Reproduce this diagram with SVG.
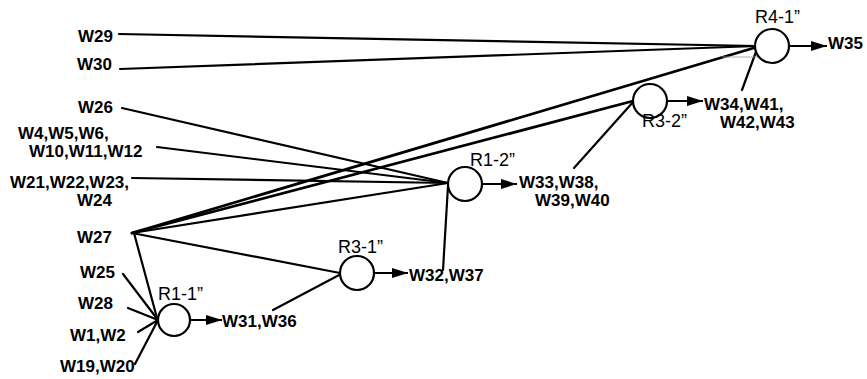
<svg xmlns="http://www.w3.org/2000/svg" width="867" height="379" viewBox="0 0 867 379">
<style>
text{font-family:"Liberation Sans",Arial,sans-serif;font-size:17px;fill:#000}
.w{font-weight:bold}
.r{font-weight:normal;font-size:18px}
.c{fill:#fff;stroke:#000;stroke-width:2.2}
.l{stroke:#000;stroke-width:2.2;fill:none;stroke-linecap:round}
.t{stroke:#000;stroke-width:2.8;fill:none;stroke-linecap:round}
.a{stroke:#000;stroke-width:2;fill:none;marker-end:url(#ah)}
</style>
<defs>
<marker id="ah" markerUnits="userSpaceOnUse" markerWidth="16" markerHeight="10" refX="16" refY="5" orient="auto">
<path d="M0,0 L16,5 L0,10 Z" fill="#000"/>
</marker>
</defs>
<g id="connectors">
<line class="l" x1="119" y1="34" x2="757" y2="46"/>
<line class="l" x1="120" y1="69" x2="757" y2="46"/>
<line class="t" x1="132" y1="233" x2="757" y2="47"/>
<line class="l" x1="742" y1="90" x2="757" y2="49"/>
<line x1="722" y1="57" x2="760" y2="57" stroke="#999" stroke-width="0.8"/>
<line class="t" x1="132" y1="233" x2="633" y2="101"/>
<line class="l" x1="574" y1="168" x2="634" y2="101"/>
<line class="l" x1="122" y1="108" x2="448" y2="183"/>
<line class="l" x1="157" y1="147" x2="448" y2="183"/>
<line class="l" x1="132" y1="178" x2="448" y2="183"/>
<line class="l" x1="132" y1="233" x2="448" y2="183"/>
<line class="l" x1="443" y1="270" x2="448" y2="186"/>
<line class="l" x1="132" y1="233" x2="340" y2="273"/>
<line class="l" x1="273" y1="310" x2="341" y2="274"/>
<line class="l" x1="134" y1="233" x2="157" y2="318"/>
<line class="l" x1="123" y1="274" x2="158" y2="320"/>
<line class="l" x1="128" y1="308" x2="158" y2="320"/>
<line class="l" x1="138" y1="332" x2="158" y2="320"/>
<line class="l" x1="135" y1="364" x2="158" y2="320"/>
<line class="a" x1="190" y1="320" x2="222" y2="320"/>
<line class="a" x1="374" y1="273" x2="408" y2="273"/>
<line class="a" x1="482" y1="184" x2="517" y2="184"/>
<line class="a" x1="667" y1="101" x2="703" y2="101"/>
<line class="a" x1="789" y1="46" x2="827" y2="46"/>
</g>
<g id="R1-1"><circle class="c" cx="174" cy="320" r="16"/><text class="r" x="158" y="300">R1-1”</text></g>
<g id="R3-1"><circle class="c" cx="357" cy="273" r="17"/><text class="r" x="338" y="253">R3-1”</text></g>
<g id="R1-2"><circle class="c" cx="465" cy="184" r="17"/><text class="r" x="470" y="166">R1-2”</text></g>
<g id="R3-2"><circle class="c" cx="650" cy="101" r="17"/><text class="r" x="642" y="127">R3-2”</text></g>
<g id="R4-1"><circle class="c" cx="772" cy="46" r="17"/><text class="r" x="755" y="23">R4-1”</text></g>
<g id="labels">
<text class="w" x="78" y="42">W29</text>
<text class="w" x="77" y="70">W30</text>
<text class="w" x="78" y="113">W26</text>
<text class="w" x="18" y="139">W4,W5,W6,</text>
<text class="w" x="29" y="157">W10,W11,W12</text>
<text class="w" x="10" y="188">W21,W22,W23,</text>
<text class="w" x="77" y="206">W24</text>
<text class="w" x="77" y="243">W27</text>
<text class="w" x="80" y="278">W25</text>
<text class="w" x="78" y="309">W28</text>
<text class="w" x="70" y="341">W1,W2</text>
<text class="w" x="60" y="372">W19,W20</text>
<text class="w" x="222" y="327">W31,W36</text>
<text class="w" x="409" y="281">W32,W37</text>
<text class="w" x="519" y="188">W33,W38,</text>
<text class="w" x="535" y="206">W39,W40</text>
<text class="w" x="704" y="110">W34,W41,</text>
<text class="w" x="720" y="128">W42,W43</text>
<text class="w" x="828" y="49">W35</text>
</g>
</svg>
